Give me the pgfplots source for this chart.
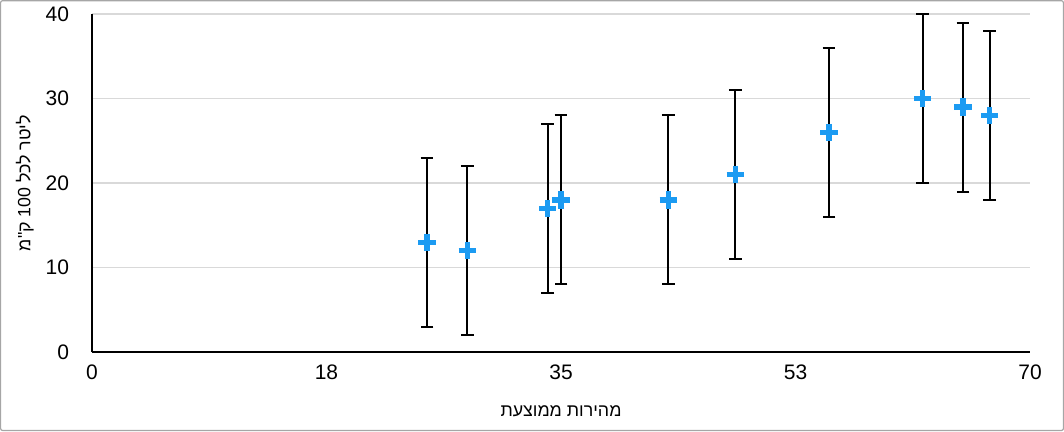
\documentclass[border=0pt]{standalone}
\usepackage{pgfplots}
\pgfplotsset{compat=1.18}
\usepackage{fontspec}
\setmainfont{Liberation Sans}
\newfontfamily\hebfont[Script=Hebrew]{Liberation Sans}
\TeXXeTstate=1
\definecolor{markblue}{HTML}{1C9BF2}
\definecolor{gridgray}{HTML}{D9D9D9}

\begin{document}
\begin{tikzpicture}
\draw[gray!70, line width=0.6pt, rounded corners=1pt] (0.3pt,0.3pt) rectangle (531.7pt,215.2pt);
\begin{axis}[
  at={(46pt,39.5pt)}, anchor=south west,
  scale only axis, width=469pt, height=169pt,
  xmin=0, xmax=70, ymin=0, ymax=40,
  axis lines=left, axis line style={-, line width=1pt, black},
  xtick={0,17.5,35,52.5,70}, xticklabels={0,18,35,53,70},
  ytick={0,10,20,30,40},
  major tick length=0pt,
  ymajorgrids, grid style={gridgray, line width=0.6pt},
  tick label style={font=\fontsize{10.5}{12}\selectfont},
  /pgf/number format/assume math mode=true,
  xticklabel style={yshift=-3pt},
  yticklabel style={xshift=-8pt},
  xlabel={\hebfont\beginR מהירות ממוצעת\endR},
  ylabel={\hebfont\beginR ליטר לכל \beginL 100\endL{} ק"מ\endR},
  label style={font=\fontsize{8.9}{10}\selectfont},
  xlabel style={yshift=-6pt},
  ylabel style={yshift=-1pt},
  clip=false,
]
\addplot[only marks, mark=+, mark size=4.3pt, markblue, line width=2.6pt,
  error bars/.cd, y dir=both, y explicit,
  error bar style={black, line width=1pt},
  error mark options={rotate=90, mark size=3.2pt, black, line width=1pt}]
  coordinates {
  (25,13) +- (0,10)
  (28,12) +- (0,10)
  (34,17) +- (0,10)
  (35,18) +- (0,10)
  (43,18) +- (0,10)
  (48,21) +- (0,10)
  (55,26) +- (0,10)
  (62,30) +- (0,10)
  (65,29) +- (0,10)
  (67,28) +- (0,10)
};
\end{axis}
\end{tikzpicture}
\end{document}
